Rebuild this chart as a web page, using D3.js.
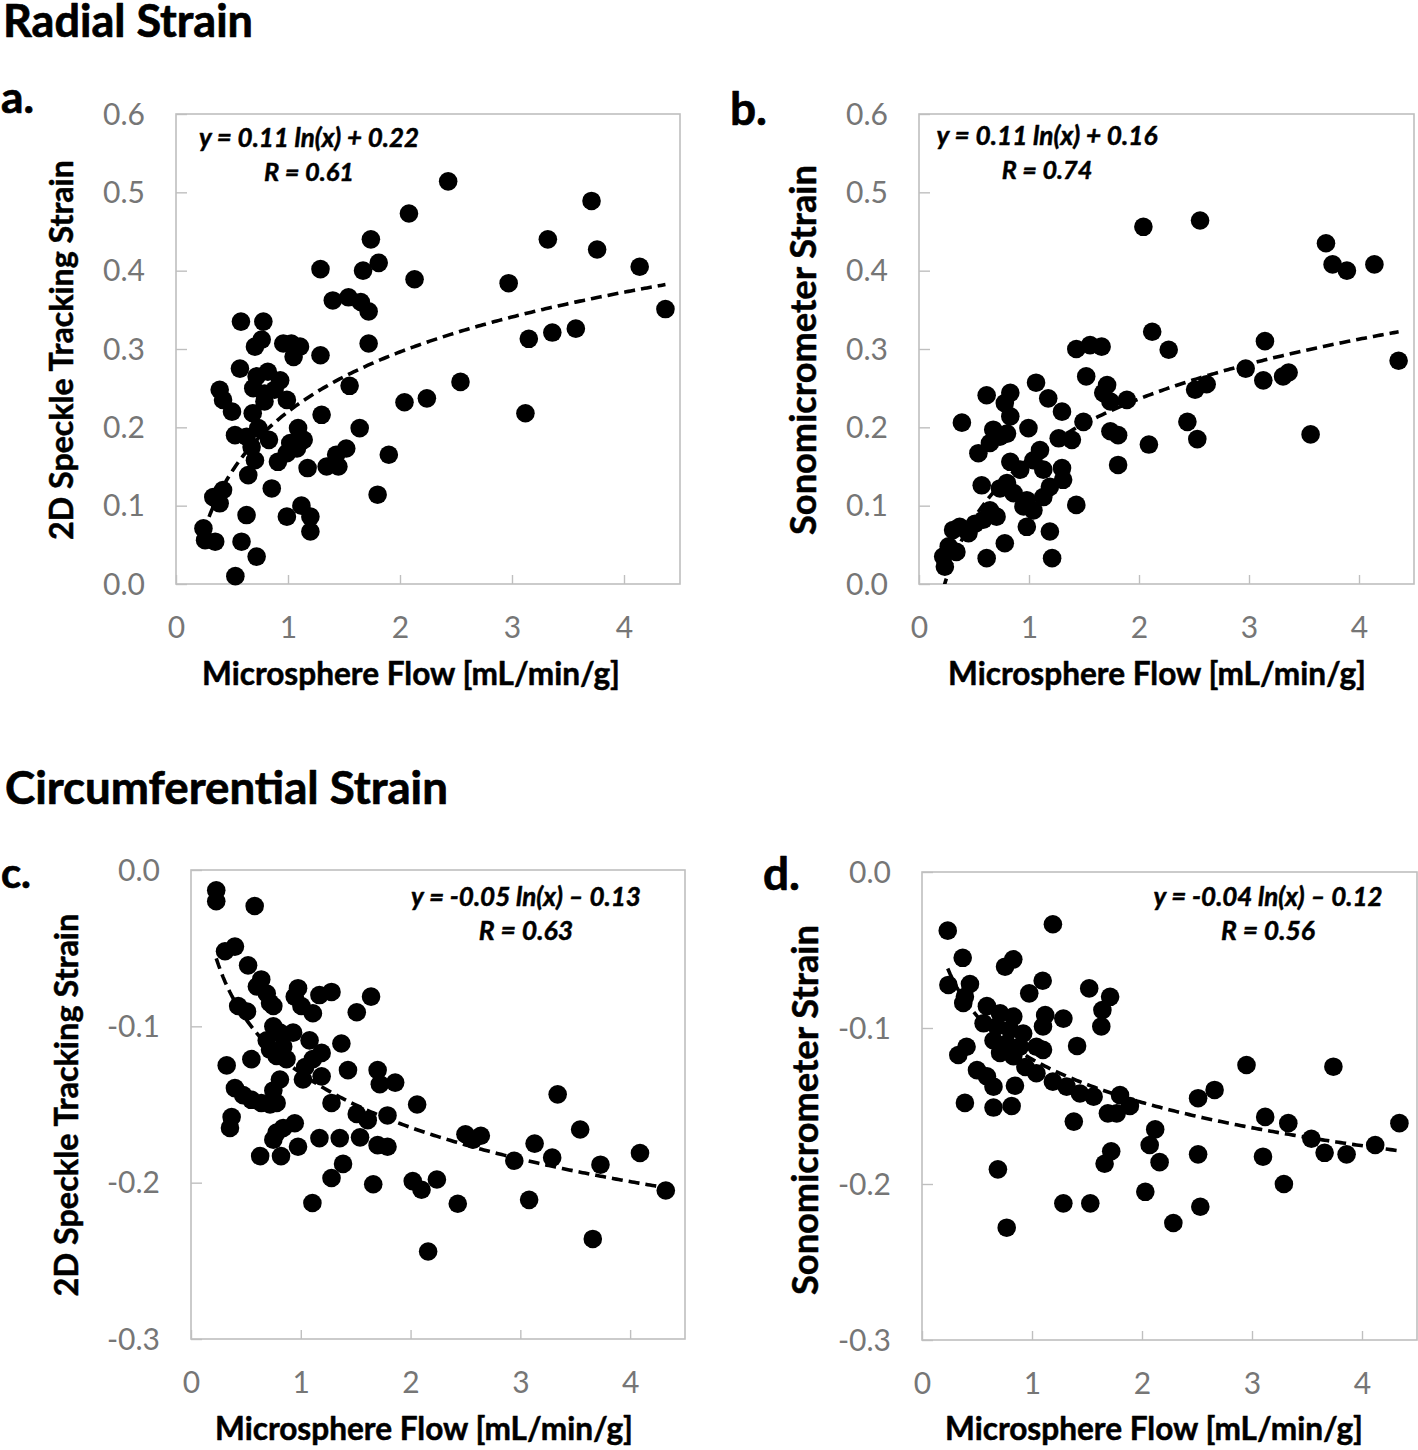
<!DOCTYPE html>
<html><head><meta charset="utf-8">
<script src="https://cdn.jsdelivr.net/npm/d3@7"></script>
<style>body{margin:0;background:#fff}</style>
</head><body>
<svg id="chart" width="1418" height="1450"></svg>
<script>
// ---------------- DATA ----------------
const flowTicks = [0, 1, 2, 3, 4];
const radialTicks = [0, 0.1, 0.2, 0.3, 0.4, 0.5, 0.6];
const circTicks = [0, -0.1, -0.2, -0.3];

// a. Radial strain, 2D speckle tracking
const aFlow = [2.08,1.74,1.81,1.67,1.29,2.13,1.40,1.54,1.65,1.72,0.58,0.78,1.72,0.705,0.765,0.958,1.03,1.107,1.05,1.29,0.571,0.72,0.82,0.93,0.69,0.79,0.88,0.79,0.99,0.39,0.42,0.50,1.55,1.30,0.685,2.04,2.24,1.64,0.527,0.63,0.735,0.675,0.83,1.09,1.14,1.02,1.08,0.99,1.52,1.43,1.90,0.705,0.91,1.345,1.45,1.175,0.645,0.855,1.80,0.333,0.42,0.39,0.63,0.99,1.12,1.20,1.20,0.245,0.26,0.35,0.585,0.72,0.53,2.43,3.71,3.32,3.76,4.14,2.97,4.37,3.15,3.36,3.57,2.54,3.12];
const aStrain = [0.473,0.44,0.41,0.40,0.402,0.389,0.362,0.366,0.36,0.348,0.335,0.335,0.307,0.303,0.312,0.307,0.307,0.303,0.29,0.292,0.275,0.265,0.271,0.26,0.25,0.243,0.248,0.233,0.235,0.248,0.235,0.22,0.253,0.216,0.218,0.232,0.237,0.199,0.19,0.188,0.199,0.175,0.184,0.199,0.184,0.18,0.173,0.167,0.173,0.165,0.165,0.158,0.156,0.15,0.15,0.148,0.139,0.122,0.114,0.111,0.12,0.103,0.088,0.086,0.10,0.086,0.067,0.071,0.056,0.054,0.054,0.035,0.01,0.514,0.489,0.44,0.427,0.405,0.384,0.351,0.313,0.321,0.326,0.258,0.218];

// b. Radial strain, sonomicrometer
const bFlow = [2.04,2.12,2.27,1.43,1.555,1.66,1.064,1.52,1.71,1.675,1.74,1.89,0.615,0.83,0.78,1.175,1.30,0.39,0.83,0.675,0.735,0.645,0.80,0.995,1.495,1.39,1.27,1.74,1.81,2.09,0.54,0.83,0.92,1.10,1.04,1.13,1.30,1.31,1.81,0.57,0.736,0.80,0.86,0.98,1.19,1.13,1.04,0.95,1.43,0.645,0.705,0.585,0.51,0.37,0.31,0.45,0.98,1.19,0.78,0.27,0.22,0.235,0.34,0.615,1.21,2.555,3.70,3.76,3.89,4.14,3.145,2.97,3.13,3.31,3.36,2.51,2.615,4.36,2.44,2.53,3.56];
const bStrain = [0.456,0.322,0.299,0.30,0.305,0.303,0.257,0.265,0.254,0.244,0.233,0.235,0.241,0.244,0.231,0.237,0.22,0.206,0.214,0.197,0.188,0.18,0.192,0.199,0.207,0.184,0.186,0.195,0.19,0.178,0.167,0.156,0.146,0.171,0.158,0.146,0.148,0.133,0.152,0.126,0.122,0.129,0.116,0.107,0.124,0.111,0.094,0.099,0.101,0.094,0.086,0.082,0.077,0.073,0.069,0.065,0.073,0.067,0.052,0.048,0.035,0.022,0.041,0.033,0.033,0.464,0.435,0.408,0.40,0.408,0.31,0.275,0.26,0.265,0.27,0.248,0.255,0.285,0.207,0.185,0.191];

// c. Circumferential strain, 2D speckle tracking
const cFlow = [0.23,0.23,0.58,0.31,0.40,0.52,0.64,0.60,0.69,0.72,0.75,0.975,0.945,1.006,1.11,1.17,1.28,1.64,1.51,0.43,0.51,0.75,0.81,0.69,0.84,0.72,0.87,0.78,0.93,1.08,1.19,1.11,1.04,1.37,0.325,0.55,1.02,1.19,1.43,1.70,1.72,1.86,0.81,0.75,0.40,0.475,0.55,0.64,0.72,0.78,1.28,2.06,0.37,0.355,1.51,1.61,1.79,0.945,0.84,0.78,0.75,1.17,1.355,1.54,1.70,1.79,0.975,0.63,0.82,1.385,1.28,1.66,2.02,2.10,2.24,1.106,2.16,3.34,3.545,2.50,2.64,2.57,3.13,4.09,2.945,3.29,3.73,4.325,2.43,3.08,3.66];
const cStrain = [-0.013,-0.020,-0.023,-0.052,-0.049,-0.061,-0.070,-0.0745,-0.079,-0.085,-0.087,-0.0756,-0.081,-0.087,-0.0916,-0.080,-0.078,-0.081,-0.091,-0.087,-0.0905,-0.100,-0.104,-0.109,-0.113,-0.115,-0.121,-0.119,-0.104,-0.109,-0.117,-0.121,-0.126,-0.111,-0.125,-0.121,-0.134,-0.132,-0.128,-0.128,-0.137,-0.136,-0.134,-0.141,-0.1395,-0.144,-0.147,-0.149,-0.150,-0.149,-0.149,-0.150,-0.158,-0.165,-0.156,-0.160,-0.157,-0.162,-0.165,-0.168,-0.1725,-0.1715,-0.1715,-0.171,-0.176,-0.177,-0.177,-0.183,-0.183,-0.188,-0.197,-0.201,-0.199,-0.2045,-0.198,-0.213,-0.244,-0.1435,-0.166,-0.169,-0.170,-0.1725,-0.175,-0.181,-0.186,-0.184,-0.1885,-0.205,-0.2135,-0.211,-0.236];

// d. Circumferential strain, sonomicrometer
const dFlow = [0.234,1.19,0.37,0.755,0.83,0.24,0.436,0.39,0.375,1.097,0.975,1.52,1.71,1.64,1.63,1.12,1.285,1.10,0.59,0.71,0.83,0.56,0.68,0.80,0.92,0.65,0.77,0.89,1.04,0.71,0.83,1.10,1.41,0.33,0.405,0.50,0.59,0.65,0.845,0.94,1.04,1.19,1.315,1.436,1.56,1.80,1.89,1.77,1.69,0.39,0.65,0.815,1.38,2.12,2.07,2.16,1.72,1.66,0.69,2.03,1.285,1.53,0.77,3.74,2.95,2.66,2.51,3.12,3.33,4.34,3.54,3.66,3.86,4.12,2.51,3.10,3.29,2.53,2.285];
const dStrain = [-0.0376,-0.0335,-0.055,-0.0607,-0.056,-0.0724,-0.0718,-0.080,-0.084,-0.0697,-0.0778,-0.0746,-0.080,-0.0885,-0.099,-0.0917,-0.094,-0.099,-0.086,-0.0906,-0.0927,-0.097,-0.099,-0.101,-0.1035,-0.108,-0.110,-0.112,-0.112,-0.116,-0.118,-0.114,-0.1115,-0.1173,-0.112,-0.127,-0.131,-0.1376,-0.137,-0.125,-0.129,-0.1344,-0.1376,-0.142,-0.144,-0.143,-0.150,-0.1547,-0.1547,-0.148,-0.151,-0.150,-0.160,-0.165,-0.175,-0.186,-0.179,-0.187,-0.1906,-0.205,-0.2124,-0.2124,-0.228,-0.1248,-0.1237,-0.1397,-0.145,-0.157,-0.161,-0.161,-0.171,-0.180,-0.181,-0.175,-0.181,-0.1825,-0.200,-0.2146,-0.225];

// Logarithmic trend lines shown on the chart: y = slope*ln(x) + intercept
const fitSlopes = [0.11, 0.11, -0.05, -0.04];
const fitIntercepts = [0.22, 0.16, -0.13, -0.12];
const eqLabels = ["y = 0.11 ln(x) + 0.22", "y = 0.11 ln(x) + 0.16", "y = -0.05 ln(x) \u2013 0.13", "y = -0.04 ln(x) \u2013 0.12"];
const rLabels = ["R = 0.61", "R = 0.74", "R = 0.63", "R = 0.56"];
const panelLetters = ["a.", "b.", "c.", "d."];
const yTitles = ["2D Speckle Tracking Strain", "Sonomicrometer Strain", "2D Speckle Tracking Strain", "Sonomicrometer Strain"];
const xTitle = "Microsphere Flow [mL/min/g]";
const sectionTitles = ["Radial Strain", "Circumferential Strain"];

// ---------------- LAYOUT ----------------
const layout = [
  {left:176, right:680, top:114, bottom:584, yDom:[0,0.6], yT:radialTicks, yTitleX:63, yTitleC:350, yTitleW:380,
   letX:1, letY:113, letW:33, eqX:309, eqY:147, rY:181, eqW:220, xTitleX:411, xTitleY:685},
  {left:919, right:1414, top:114, bottom:584, yDom:[0,0.6], yT:radialTicks, yTitleX:806, yTitleC:350, yTitleW:370,
   letX:730, letY:125, letW:37, eqX:1047, eqY:145, rY:179, eqW:221, xTitleX:1157, xTitleY:685},
  {left:191, right:685, top:870, bottom:1339, yDom:[-0.3,0], yT:circTicks, yTitleX:68, yTitleC:1105, yTitleW:383,
   letX:1, letY:888, letW:30, eqX:526, eqY:906, rY:940, eqW:230, xTitleX:424, xTitleY:1440},
  {left:922, right:1417, top:872, bottom:1340, yDom:[-0.3,0], yT:circTicks, yTitleX:808, yTitleC:1110, yTitleW:370,
   letX:763, letY:890, letW:37, eqX:1268, eqY:906, rY:940, eqW:229, xTitleX:1154, xTitleY:1440}
];
const flows = [aFlow, bFlow, cFlow, dFlow];
const strains = [aStrain, bStrain, cStrain, dStrain];

const svg = d3.select("#chart");
const FONT = "Lato, 'Open Sans', 'DejaVu Sans', sans-serif";

function fit(sel, w){
  const n = sel.node();
  const fs = parseFloat(sel.attr("font-size"));
  const len = n.getComputedTextLength();
  if (len > 0) sel.attr("font-size", (fs * w / len).toFixed(2));
  return sel;
}
function heavy(sel, sw){
  return sel.attr("stroke", "#000").attr("stroke-width", sw).attr("stroke-linejoin", "round");
}

// section titles
heavy(fit(svg.append("text").attr("x",3).attr("y",37).attr("font-family",FONT).attr("font-weight",700)
  .attr("font-size",40).attr("fill","#000").text(sectionTitles[0]), 250), 0.7);
heavy(fit(svg.append("text").attr("x",5).attr("y",804).attr("font-family",FONT).attr("font-weight",700)
  .attr("font-size",40).attr("fill","#000").text(sectionTitles[1]), 443), 0.7);

const defs = svg.append("defs");

layout.forEach((L, i) => {
  const x = d3.scaleLinear().domain([0, 4.5]).range([L.left, L.right]);
  const y = d3.scaleLinear().domain(L.yDom).range([L.bottom, L.top]);
  const g = svg.append("g");

  defs.append("clipPath").attr("id", "clip" + i).append("rect")
    .attr("x", L.left).attr("y", L.top).attr("width", L.right - L.left).attr("height", L.bottom - L.top);

  // plot frame
  g.append("rect").attr("x", L.left).attr("y", L.top)
    .attr("width", L.right - L.left).attr("height", L.bottom - L.top)
    .attr("fill", "none").attr("stroke", "#bfbfbf").attr("stroke-width", 1.6);

  // y axis (ticks inward, labels at left)
  const yAx = g.append("g").attr("transform", `translate(${L.left},0)`)
    .call(d3.axisRight(y).tickValues(L.yT).tickSize(11).tickFormat(d3.format(".1f")));
  yAx.select(".domain").remove();
  yAx.selectAll(".tick line").attr("stroke", "#bfbfbf").attr("stroke-width", 1.4);
  yAx.selectAll(".tick text").attr("x", -31).attr("dy", "0.34em").attr("text-anchor", "end")
    .attr("font-family", FONT).attr("font-size", 30).attr("fill", "#767676")
    .text(d => d === 0 ? "0.0" : d3.format(".1f")(d).replace("\u2212", "-"));

  // x axis (ticks inward, labels below)
  const xAx = g.append("g").attr("transform", `translate(0,${L.bottom})`)
    .call(d3.axisTop(x).tickValues(flowTicks).tickSize(9).tickFormat(d3.format("d")));
  xAx.select(".domain").remove();
  xAx.selectAll(".tick line").attr("stroke", "#bfbfbf").attr("stroke-width", 1.4);
  xAx.selectAll(".tick text").attr("y", 54).attr("dy", 0).attr("text-anchor", "middle")
    .attr("font-family", FONT).attr("font-size", 30).attr("fill", "#767676");

  // points
  const pts = flows[i].map((f, k) => ({f, s: strains[i][k]}));
  g.append("g").selectAll("circle").data(pts).join("circle")
    .attr("cx", d => x(d.f)).attr("cy", d => y(d.s)).attr("r", 9.3).attr("fill", "#000");

  // trend line
  const [x0, x1] = d3.extent(flows[i]);
  const tx = d3.range(0, 201).map(k => x0 + (x1 - x0) * k / 200);
  const line = d3.line().x(d => x(d)).y(d => y(fitSlopes[i] * Math.log(d) + fitIntercepts[i]));
  g.append("path").datum(tx).attr("d", line).attr("fill", "none").attr("clip-path", `url(#clip${i})`)
    .attr("stroke", "#000").attr("stroke-width", 3.6).attr("stroke-dasharray", "11,6");

  // equation labels
  heavy(fit(g.append("text").attr("x", L.eqX).attr("y", L.eqY).attr("text-anchor", "middle")
    .attr("font-family", FONT).attr("font-weight", 700).attr("font-style", "italic")
    .attr("font-size", 24).attr("fill", "#000").text(eqLabels[i]), L.eqW), 0.5);
  heavy(fit(g.append("text").attr("x", L.eqX).attr("y", L.rY).attr("text-anchor", "middle")
    .attr("font-family", FONT).attr("font-weight", 700).attr("font-style", "italic")
    .attr("font-size", 24).attr("fill", "#000").text(rLabels[i]), L.eqW * 0.41), 0.5);

  // panel letter
  heavy(fit(g.append("text").attr("x", L.letX).attr("y", L.letY)
    .attr("font-family", FONT).attr("font-weight", 700).attr("font-size", 44).attr("fill", "#000")
    .text(panelLetters[i]), L.letW), 0.7);

  // axis titles
  heavy(fit(g.append("text").attr("x", L.xTitleX).attr("y", L.xTitleY).attr("text-anchor", "middle")
    .attr("font-family", FONT).attr("font-weight", 700).attr("font-size", 30).attr("fill", "#000")
    .text(xTitle), 418), 0.5);
  heavy(fit(g.append("text").attr("transform", `translate(${L.yTitleX + 10},${L.yTitleC}) rotate(-90)`)
    .attr("text-anchor", "middle")
    .attr("font-family", FONT).attr("font-weight", 700).attr("font-size", 28).attr("fill", "#000")
    .text(yTitles[i]), L.yTitleW), 0.5);
});
</script>
</body></html>
